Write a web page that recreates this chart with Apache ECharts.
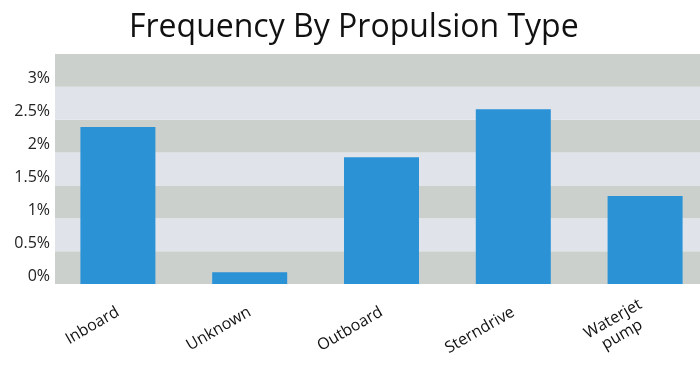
<!DOCTYPE html>
<html>
<head>
<meta charset="utf-8">
<script src="https://cdn.jsdelivr.net/npm/echarts@6/dist/echarts.min.js"></script>
<style>
html,body{margin:0;padding:0;background:#fff;}
#chart{width:700px;height:375px;}
</style>
</head>
<body>
<div id="chart"></div>
<script>
const categories = ['Inboard', 'Unknown', 'Outboard', 'Sterndrive', 'Waterjet\npump'];
const values = [2.39, 0.18, 1.93, 2.66, 1.34];
const yTicks = [0, 0.5, 1, 1.5, 2, 2.5, 3, 3.5];

const chart = echarts.init(document.getElementById('chart'));
chart.setOption({
  animation: false,
  backgroundColor: '#ffffff',
  title: {
    text: 'Frequency By Propulsion Type',
    left: 124,
    top: 7,
    textStyle: { fontFamily: 'Open Sans', fontSize: 32, fontWeight: 'normal', color: '#111' }
  },
  graphic: [{
    type: 'rect',
    left: 51, top: 50,
    shape: { width: 4, height: 240 },
    style: { fill: '#ffffff' },
    z: 10
  }],
  grid: { left: 52, width: 659, top: 54, bottom: 91, outerBoundsMode: 'none', containLabel: false },
  xAxis: {
    type: 'category',
    data: categories,
    axisLine: { show: false },
    axisTick: { show: false },
    axisLabel: {
      rotate: 30,
      interval: 0,
      margin: 27,
      fontFamily: 'Open Sans',
      fontSize: 16,
      color: '#111',
      align: 'right',
      formatter: function (v) {
        return v.split('\n').map(function (s) { return '{c|' + s + '}'; }).join('\n');
      },
      rich: {
        c: { align: 'center', fontFamily: 'Open Sans', fontSize: 16, color: '#111', lineHeight: 18 }
      }
    }
  },
  yAxis: {
    type: 'value',
    min: 0,
    max: 3.5,
    interval: 0.5,
    axisLine: { show: false },
    axisTick: { show: false },
    splitLine: { show: false },
    splitArea: { show: true, areaStyle: { color: ['#ccd0cd', '#e0e3ea'] } },
    axisLabel: {
      margin: 2,
      fontFamily: 'Open Sans',
      fontSize: 16,
      color: '#222',
      verticalAlign: 'bottom',
      formatter: function (v) { return v >= 3.5 ? '' : v + '%'; }
    }
  },
  series: [{
    type: 'bar',
    data: values,
    barWidth: 75,
    itemStyle: { color: '#2b92d6' }
  }]
});
</script>
</body>
</html>
